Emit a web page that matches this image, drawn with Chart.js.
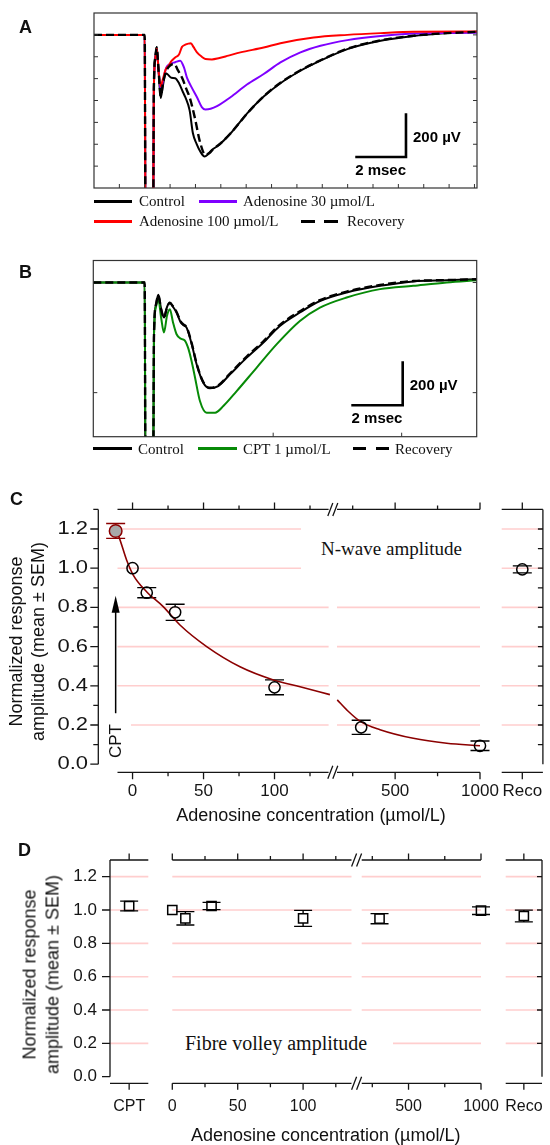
<!DOCTYPE html>
<html><head><meta charset="utf-8">
<script src="https://cdn.jsdelivr.net/npm/chart.js@4.4.1/dist/chart.umd.min.js"></script>
<style>
html,body{margin:0;padding:0;background:#fff;}
#wrap{position:relative;width:550px;height:1145px;overflow:hidden;background:#fff;}
#wrap canvas{position:absolute;left:0;top:0;}
.t{position:absolute;white-space:nowrap;color:#111;}
.serif{font-family:"Liberation Serif","Times New Roman",serif;}
.sans{font-family:"Liberation Sans",Arial,sans-serif;}
.lg{position:absolute;height:3px;}
.lbl{font-weight:bold;font-size:18px;line-height:20px;}
.leg{font-size:15px;line-height:18px;}
.rot{transform:rotate(-90deg);text-align:center;}
</style></head><body><div id="wrap">
<canvas id="cA" width="550" height="1145"></canvas>
<canvas id="cB" width="550" height="1145"></canvas>
<canvas id="cC1" width="550" height="1145"></canvas>
<canvas id="cC2" width="550" height="1145"></canvas>
<canvas id="cC3" width="550" height="1145"></canvas>
<canvas id="cD0" width="550" height="1145"></canvas>
<canvas id="cD1" width="550" height="1145"></canvas>
<canvas id="cD2" width="550" height="1145"></canvas>
<canvas id="cD3" width="550" height="1145"></canvas>

<!-- panel letters -->
<div class="t sans lbl" style="left:19px;top:17px;">A</div>
<div class="t sans lbl" style="left:19px;top:262px;">B</div>
<div class="t sans lbl" style="left:10px;top:489px;">C</div>
<div class="t sans lbl" style="left:18px;top:840px;">D</div>

<!-- legend A -->
<div class="lg" style="left:94px;top:199.5px;width:38px;background:#000"></div>
<div class="t serif leg" style="left:139px;top:192px;">Control</div>
<div class="lg" style="left:199px;top:199.5px;width:38px;background:#7f00ff"></div>
<div class="t serif leg" style="left:243px;top:192px;">Adenosine 30 µmol/L</div>
<div class="lg" style="left:94px;top:219.5px;width:38px;background:#ff0000"></div>
<div class="t serif leg" style="left:139px;top:212px;">Adenosine 100 µmol/L</div>
<div class="lg" style="left:301px;top:219.5px;width:37px;background:repeating-linear-gradient(to right,#000 0 14px,transparent 14px 23px)"></div>
<div class="t serif leg" style="left:347px;top:212px;">Recovery</div>

<!-- legend B -->
<div class="lg" style="left:93px;top:447px;width:39px;background:#000"></div>
<div class="t serif leg" style="left:138px;top:439.5px;">Control</div>
<div class="lg" style="left:198px;top:447px;width:39px;background:#078a07"></div>
<div class="t serif leg" style="left:243px;top:439.5px;">CPT 1 µmol/L</div>
<div class="lg" style="left:353px;top:447px;width:36px;background:repeating-linear-gradient(to right,#000 0 13px,transparent 13px 23px)"></div>
<div class="t serif leg" style="left:395px;top:439.5px;">Recovery</div>

<!-- panel C annotations -->
<div class="t serif" style="left:301px;top:521px;width:181px;height:56px;line-height:56px;font-size:19px;text-align:center;background:#fff;">N-wave amplitude</div>
<div class="t sans rot" style="left:95.7px;top:726px;width:40px;height:30px;line-height:30px;font-size:17px;background:#fff;">CPT</div>
<div class="t sans rot" style="left:-102.8px;top:619.5px;width:260px;height:43px;line-height:21.5px;font-size:18px;">Normalized response<br>amplitude (mean ± SEM)</div>
<div class="t sans" style="left:111px;top:804px;width:400px;text-align:center;font-size:18px;line-height:22px;">Adenosine concentration (µmol/L)</div>

<!-- panel D annotations -->
<div class="t serif" style="left:172px;top:1030px;width:208px;height:27px;line-height:27px;font-size:20px;padding-left:13px;background:#fff;">Fibre volley amplitude</div>
<div class="t sans rot" style="left:-89.5px;top:951.5px;width:260px;height:45px;line-height:22.5px;font-size:18px;">Normalized response<br>amplitude (mean ± SEM)</div>
<div class="t sans" style="left:125.7px;top:1124px;width:400px;text-align:center;font-size:18px;line-height:22px;">Adenosine concentration (µmol/L)</div>
</div>
<script>
// ---------------- DATA ----------------
// Panel A (time in ms, potential in µV)
const aControlT  = [0, 2.0, 2.03, 2.33, 2.36, 2.42, 2.47, 2.55, 2.63, 2.72, 2.82, 2.9, 3.05, 3.2, 3.36, 3.5, 3.6, 3.77, 3.9, 4.04, 4.2, 4.36, 4.5, 4.65, 4.91, 5.38, 6.03, 6.69, 7.35, 8.14, 8.93, 9.99, 11.3, 12.6, 13.94, 15.1];
const aControlV  = [0, 0, -900, -900, -250, -100, -55, -170, -288, -230, -175, -180, -196, -198, -223, -260, -285, -345, -450, -497, -535, -556, -545, -526, -505, -451, -360, -282, -221, -164, -118, -65, -27, -5, 8, 14];
const aAdeno30T  = [0, 2.0, 2.03, 2.33, 2.36, 2.42, 2.47, 2.55, 2.63, 2.72, 2.85, 3.0, 3.2, 3.4, 3.55, 3.66, 3.85, 4.06, 4.25, 4.39, 4.6, 4.85, 5.38, 6.03, 6.69, 7.35, 8.14, 8.93, 9.99, 11.3, 12.6, 13.94, 15.1];
const aAdeno30V  = [0, 0, -900, -900, -250, -110, -65, -170, -255, -210, -150, -133, -125, -118, -150, -194, -240, -285, -330, -341, -338, -326, -285, -227, -179, -126, -80, -50, -24, -5, 6, 9, 10];
const aAdeno100T = [0, 2.0, 2.03, 2.33, 2.36, 2.42, 2.47, 2.55, 2.63, 2.72, 2.82, 2.94, 3.05, 3.2, 3.35, 3.47, 3.6, 3.72, 3.82, 3.92, 4.06, 4.25, 4.39, 4.65, 4.91, 5.3, 5.77, 6.69, 7.35, 8.66, 9.99, 11.3, 12.6, 15.1];
const aAdeno100V = [0, 0, -900, -900, -250, -110, -60, -170, -235, -200, -160, -141, -120, -103, -90, -55, -45, -40, -38, -55, -80, -100, -110, -112, -107, -95, -80, -58, -38, -12, 0, 8, 14, 15];
const aRecoveryT = [0, 2.0, 2.03, 2.33, 2.36, 2.42, 2.47, 2.55, 2.63, 2.72, 2.85, 3.0, 3.17, 3.3, 3.49, 3.65, 3.77, 3.97, 4.18, 4.39, 4.55, 4.7, 4.95, 5.4, 6.05, 6.7, 7.35, 8.14, 8.93, 9.99, 11.3, 12.6, 13.94, 15.1];
const aRecoveryV = [0, 0, -900, -900, -250, -100, -58, -170, -280, -220, -165, -140, -133, -160, -201, -250, -285, -376, -490, -548, -540, -522, -500, -448, -358, -280, -219, -162, -116, -63, -25, -4, 8, 14];
const aTickT = [1,2,3,4,5,6,7,8,9,10,11,12,13,14,15];
const aTickV = [0,-100,-200,-300,-400,-500,-600];

// Panel B
const bControlT  = [0, 2.0, 2.03, 2.33, 2.36, 2.44, 2.53, 2.64, 2.75, 2.87, 2.98, 3.1, 3.24, 3.4, 3.5, 3.63, 3.83, 4.02, 4.28, 4.54, 4.86, 5.32, 5.97, 6.61, 7.26, 8.04, 8.82, 9.86, 11.16, 12.45, 13.75, 14.92];
const bControlV  = [0, 0, -900, -900, -250, -100, -56, -120, -159, -110, -91, -110, -136, -180, -193, -205, -280, -371, -455, -480, -470, -417, -341, -273, -197, -136, -84, -45, -15, 5, 10, 15];
const bCptT      = [0, 2.0, 2.03, 2.33, 2.36, 2.44, 2.53, 2.64, 2.75, 2.87, 2.98, 3.1, 3.24, 3.4, 3.55, 3.7, 3.83, 3.96, 4.15, 4.41, 4.74, 5.06, 5.58, 6.36, 7.14, 8.04, 8.82, 9.86, 11.16, 12.45, 13.75, 14.92];
const bCptV      = [0, 0, -900, -900, -250, -110, -75, -160, -227, -150, -121, -180, -235, -255, -262, -300, -360, -432, -538, -591, -591, -561, -493, -386, -280, -175, -114, -68, -30, -15, 0, 10];
const bRecoveryT = [0, 2.0, 2.03, 2.33, 2.36, 2.44, 2.53, 2.64, 2.75, 2.87, 2.98, 3.1, 3.24, 3.4, 3.5, 3.63, 3.83, 4.02, 4.28, 4.54, 4.86, 5.32, 5.97, 6.61, 7.26, 8.04, 8.82, 9.86, 11.16, 12.45, 13.75, 14.92];
const bRecoveryV = [0, 0, -900, -900, -250, -100, -58, -122, -160, -112, -93, -108, -134, -176, -190, -203, -276, -368, -452, -478, -468, -413, -336, -268, -192, -131, -80, -41, -11, 7, 11, 15];
const bTickT = [2, 7, 12];
const bTickVLeft = [-500];
const bTickVRight = [0, -500];

// Panel C (N-wave amplitude)
const cConc = [0, 10, 30, 100, 300, 1000];
const cMean = [1.00, 0.875, 0.775, 0.392, 0.188, 0.094];
const cSem  = [0, 0.026, 0.041, 0.038, 0.036, 0.024];
const cCptPos = -11.9, cCptMean = 1.19, cCptSem = 0.038;
const cRecoLabel = ['Reco'], cRecoMean = [0.994], cRecoSem = [0.018];
const cFitConc1 = [-11.9, -10.1, -4.2, 0.5, 9.9, 21.6, 33.4, 52.2, 75.7, 99.2, 118, 139];
const cFitVal1  = [1.19, 1.169, 1.042, 0.965, 0.880, 0.804, 0.710, 0.600, 0.497, 0.430, 0.395, 0.355];
const cFitConc2 = [159, 215, 297, 411, 607, 804, 1000];
const cFitVal2  = [0.328, 0.277, 0.217, 0.176, 0.132, 0.107, 0.094];
const cYTicks = [0.0,0.1,0.2,0.3,0.4,0.5,0.6,0.7,0.8,0.9,1.0,1.1,1.2,1.3];
const cYTickLabels = ['0.0','','0.2','','0.4','','0.6','','0.8','','1.0','','1.2',''];
const cXTicks1 = [0,25,50,75,100,125], cXLabels1 = ['0','','50','','100',''];
const cXTicks2 = [250,500,750,1000], cXLabels2 = ['','500','','1000'];
const gridVals = [0.2,0.4,0.6,0.8,1.0,1.2];

// Panel D (fibre volley amplitude)
const dConc = [0, 10, 30, 100, 300, 1000];
const dMean = [1.00, 0.95, 1.024, 0.95, 0.948, 0.996];
const dSem  = [0, 0.04, 0.022, 0.048, 0.03, 0.023];
const dCptLabel = ['CPT'], dCptMean = [1.024], dCptSem = [0.029];
const dRecoLabel = ['Reco'], dRecoMean = [0.964], dRecoSem = [0.035];
const dYTicks = [0.0,0.2,0.4,0.6,0.8,1.0,1.2];
const dYTickLabels = ['0.0','0.2','0.4','0.6','0.8','1.0','1.2'];
const dXTicks1 = [0,25,50,75,100,125], dXLabels1 = ['0','','50','','100',''];
const dXTicks2 = [250,500,750,1000], dXLabels2 = ['','500','','1000'];

// ---------------- HELPERS ----------------
const SANS = '"Liberation Sans", Arial, sans-serif';
const INK = '#151515';
const GRID = 'rgb(255,206,206)';
const DARKRED = '#8B0000';
const xy = (xs, ys) => xs.map((x, i) => ({x: x, y: ys[i]}));
function pad(L, R, T, B) { return {left: L, right: 550 - R, top: T, bottom: 1145 - B}; }

function mk(id, o) {
  return new Chart(document.getElementById(id), {
    type: o.type || 'scatter',
    data: {labels: o.labels, datasets: o.datasets},
    options: {
      responsive: false, maintainAspectRatio: false, animation: false, devicePixelRatio: 1, events: [],
      layout: {padding: o.padding},
      plugins: {legend: {display: false}, tooltip: {enabled: false}, title: {display: false}},
      scales: {x: Object.assign({display: false}, o.x), y: Object.assign({display: false}, o.y)}
    },
    plugins: [{
      id: 'deco' + id,
      beforeDatasetsDraw(c) { if (o.under) { c.ctx.save(); o.under(c.ctx, c.scales.x, c.scales.y, c.chartArea); c.ctx.restore(); } },
      afterDatasetsDraw(c) { if (o.over) { c.ctx.save(); o.over(c.ctx, c.scales.x, c.scales.y, c.chartArea); c.ctx.restore(); } }
    }]
  });
}
function trace(ts, vs, color, width, dash) {
  return {data: xy(ts, vs), showLine: true, borderColor: color, borderWidth: width, borderDash: dash || [],
    pointRadius: 0, cubicInterpolationMode: 'monotone', fill: false, borderCapStyle: 'butt'};
}
function frameTicks(ctx, X, Y, a, tT, tVL, tVR) {
  ctx.strokeStyle = '#333'; ctx.lineWidth = 1.2;
  ctx.strokeRect(a.left, a.top, a.right - a.left, a.bottom - a.top);
  ctx.lineWidth = 1; ctx.beginPath();
  tT.forEach(t => { const x = X.getPixelForValue(t); ctx.moveTo(x, a.bottom); ctx.lineTo(x, a.bottom - 4); });
  tVL.forEach(v => { const y = Y.getPixelForValue(v); ctx.moveTo(a.left, y); ctx.lineTo(a.left + 4, y); });
  tVR.forEach(v => { const y = Y.getPixelForValue(v); ctx.moveTo(a.right, y); ctx.lineTo(a.right - 4, y); });
  ctx.stroke();
}
function scaleBar(ctx, X, Y, t0, v0, dt, dv, lblV, lblT) {
  const x0 = X.getPixelForValue(t0), y0 = Y.getPixelForValue(v0);
  const x1 = X.getPixelForValue(t0 - dt), y1 = Y.getPixelForValue(v0 + dv);
  ctx.strokeStyle = '#000'; ctx.lineWidth = 2.6; ctx.lineJoin = 'miter';
  ctx.beginPath(); ctx.moveTo(x0, y1); ctx.lineTo(x0, y0); ctx.lineTo(x1, y0); ctx.stroke();
  ctx.font = 'bold 15px ' + SANS; ctx.fillStyle = '#000'; ctx.textBaseline = 'middle';
  ctx.textAlign = 'left'; ctx.fillText(lblV, x0 + 7, (y0 + y1) / 2 + 3);
  ctx.textAlign = 'center'; ctx.fillText(lblT, (x0 + x1) / 2, y0 + 14);
}
function gridH(ctx, Y, a, vals) {
  ctx.strokeStyle = GRID; ctx.lineWidth = 1.6; ctx.beginPath();
  vals.forEach(v => { const y = Y.getPixelForValue(v); ctx.moveTo(a.left, y); ctx.lineTo(a.right, y); });
  ctx.stroke();
}
function errBars(ctx, X, Y, xs, means, sems, half, mHalf, color) {
  ctx.strokeStyle = color; ctx.lineWidth = 1.4; ctx.beginPath();
  xs.forEach((xv, i) => {
    if (!sems[i]) return;
    const x = X.getPixelForValue(xv), yc = Y.getPixelForValue(means[i]);
    const yt = Y.getPixelForValue(means[i] + sems[i]), yb = Y.getPixelForValue(means[i] - sems[i]);
    ctx.moveTo(x - half, yt); ctx.lineTo(x + half, yt); ctx.moveTo(x - half, yb); ctx.lineTo(x + half, yb);
    if (yc - yt > mHalf) { ctx.moveTo(x, yt); ctx.lineTo(x, yc - mHalf); ctx.moveTo(x, yc + mHalf); ctx.lineTo(x, yb); }
  });
  ctx.stroke();
}
function xAxisSeg(ctx, X, a, yTop, yBot, ticks, labels, forceMajor, lblY, font, lenMaj, lenMin) {
  ctx.strokeStyle = INK; ctx.lineWidth = 1.3; ctx.beginPath();
  ctx.moveTo(a.left, yTop); ctx.lineTo(a.right, yTop);
  ctx.moveTo(a.left, yBot); ctx.lineTo(a.right, yBot);
  ticks.forEach((t, i) => {
    const x = X.getPixelForValue(t); const len = (forceMajor || labels[i]) ? lenMaj : lenMin;
    ctx.moveTo(x, yTop); ctx.lineTo(x, yTop - len); ctx.moveTo(x, yBot); ctx.lineTo(x, yBot + len);
  });
  ctx.stroke();
  ctx.font = font; ctx.fillStyle = INK; ctx.textAlign = 'center'; ctx.textBaseline = 'middle';
  ticks.forEach((t, i) => { if (labels[i]) ctx.fillText(labels[i], X.getPixelForValue(t), lblY); });
}
function slashes(ctx, xMid, ys) {
  ctx.strokeStyle = INK; ctx.lineWidth = 1.3; ctx.beginPath();
  ys.forEach(y => { [-2.5, 2.5].forEach(d => { ctx.moveTo(xMid + d - 2.5, y + 6.5); ctx.lineTo(xMid + d + 2.5, y - 6.5); }); });
  ctx.stroke();
}
function sel(xs, ms, ss, lo, hi) {
  const o = {x: [], m: [], s: []};
  xs.forEach((x, i) => { if (x >= lo && x <= hi) { o.x.push(x); o.m.push(ms[i]); o.s.push(ss[i]); } });
  return o;
}
function markers(xs, ys, style, r, fill, stroke) {
  return {data: xy(xs, ys), showLine: false, pointStyle: style, pointRadius: r, pointBorderWidth: 1.5,
    pointBackgroundColor: fill, pointBorderColor: stroke, clip: false};
}
function catMarkers(ys, style, r, fill, stroke) {
  return {data: ys, showLine: false, pointStyle: style, pointRadius: r, pointBorderWidth: 1.5,
    pointBackgroundColor: fill, pointBorderColor: stroke, clip: false};
}

// ---------------- PANEL A ----------------
mk('cA', {
  padding: pad(94, 477, 13, 188),
  x: {type: 'linear', min: 0, max: 15.1}, y: {type: 'linear', min: -700, max: 100},
  datasets: [
    trace(aRecoveryT, aRecoveryV, '#000', 2.4, [8, 4]),
    trace(aAdeno100T, aAdeno100V, '#ff0000', 2),
    trace(aAdeno30T, aAdeno30V, '#7f00ff', 2),
    trace(aControlT, aControlV, '#000', 2)
  ],
  over(ctx, X, Y, a) {
    frameTicks(ctx, X, Y, a, aTickT, aTickV, aTickV);
    scaleBar(ctx, X, Y, 12.3, -558, 2, 200, '200 µV', '2 msec');
  }
});

// ---------------- PANEL B ----------------
mk('cB', {
  padding: pad(93.3, 476.7, 260.5, 436.7),
  x: {type: 'linear', min: 0, max: 14.92}, y: {type: 'linear', min: -700, max: 100},
  datasets: [
    trace(bRecoveryT, bRecoveryV, '#000', 2.4, [8, 4]),
    trace(bCptT, bCptV, '#078a07', 2),
    trace(bControlT, bControlV, '#000', 2)
  ],
  over(ctx, X, Y, a) {
    frameTicks(ctx, X, Y, a, bTickT, bTickVLeft, bTickVRight);
    scaleBar(ctx, X, Y, 12.04, -557, 2, 200, '200 µV', '2 msec');
  }
});

// ---------------- PANEL C ----------------
const CT = 509.4, CB = 764.2, CBOT = 772.3, CLBL = 791.7;
const C1 = {L: 117.5, R: 328.6, min: -10.6, max: 138.1};
const C2 = {L: 337, R: 480, min: 157.5, max: 1000};
const C3 = {L: 501.7, R: 546.7};
const cy = {type: 'linear', min: 0, max: 1.3};
const cFont = '17px ' + SANS;
const s1 = sel(cConc, cMean, cSem, C1.min, C1.max);
const s2 = sel(cConc, cMean, cSem, C2.min, C2.max);

mk('cC1', {
  padding: pad(C1.L, C1.R, CT, CB),
  x: {type: 'linear', min: C1.min, max: C1.max}, y: cy,
  datasets: [
    markers([cCptPos], [cCptMean], 'circle', 6.3, '#a8a8a8', DARKRED),
    markers(s1.x, s1.m, 'circle', 5.6, 'rgba(0,0,0,0)', '#000'),
    Object.assign(trace(cFitConc1, cFitVal1, DARKRED, 1.6), {clip: false})
  ],
  under(ctx, X, Y, a) {
    gridH(ctx, Y, a, gridVals);
    errBars(ctx, X, Y, s1.x, s1.m, s1.s, 9.5, 5.8, '#000');
    errBars(ctx, X, Y, [cCptPos], [cCptMean], [cCptSem], 9.5, 6.5, DARKRED);
  },
  over(ctx, X, Y, a) {
    const ax = 98.3;
    ctx.strokeStyle = INK; ctx.lineWidth = 1.3; ctx.beginPath();
    ctx.moveTo(ax, Y.getPixelForValue(1.3)); ctx.lineTo(ax, Y.getPixelForValue(0));
    cYTicks.forEach((v, i) => { const y = Y.getPixelForValue(v); ctx.moveTo(ax, y); ctx.lineTo(ax - (cYTickLabels[i] ? 8 : 5), y); });
    ctx.stroke();
    ctx.fillStyle = INK; ctx.font = '18px ' + SANS; ctx.textAlign = 'right'; ctx.textBaseline = 'middle';
    cYTicks.forEach((v, i) => { if (cYTickLabels[i]) { ctx.save(); ctx.translate(88, Y.getPixelForValue(v)); ctx.scale(1.22, 1); ctx.fillText(cYTickLabels[i], 0, 0); ctx.restore(); } });
    xAxisSeg(ctx, X, a, CT, CBOT, cXTicks1, cXLabels1, false, CLBL, cFont, 7, 4);
    const x = X.getPixelForValue(cCptPos), yb = Y.getPixelForValue(0.26), yt = Y.getPixelForValue(0.86);
    ctx.strokeStyle = '#000'; ctx.lineWidth = 1.5; ctx.beginPath(); ctx.moveTo(x, yb); ctx.lineTo(x, yt + 12); ctx.stroke();
    ctx.fillStyle = '#000'; ctx.beginPath(); ctx.moveTo(x, yt); ctx.lineTo(x - 4, yt + 17); ctx.lineTo(x + 4, yt + 17); ctx.closePath(); ctx.fill();
    slashes(ctx, (C1.R + C2.L) / 2, [CT, CBOT]);
  }
});

mk('cC2', {
  padding: pad(C2.L, C2.R, CT, CB),
  x: {type: 'linear', min: C2.min, max: C2.max}, y: cy,
  datasets: [
    markers(s2.x, s2.m, 'circle', 5.6, 'rgba(0,0,0,0)', '#000'),
    Object.assign(trace(cFitConc2, cFitVal2, DARKRED, 1.6), {clip: false})
  ],
  under(ctx, X, Y, a) {
    gridH(ctx, Y, a, gridVals);
    errBars(ctx, X, Y, s2.x, s2.m, s2.s, 9.5, 5.8, '#000');
  },
  over(ctx, X, Y, a) {
    xAxisSeg(ctx, X, a, CT, CBOT, cXTicks2, cXLabels2, false, CLBL, cFont, 7, 4);
  }
});

mk('cC3', {
  type: 'line', labels: cRecoLabel,
  padding: pad(C3.L, C3.R, CT, CB),
  x: {type: 'category', offset: true}, y: cy,
  datasets: [catMarkers(cRecoMean, 'circle', 5.6, 'rgba(0,0,0,0)', '#000')],
  under(ctx, X, Y, a) {
    gridH(ctx, Y, a, gridVals);
    errBars(ctx, X, Y, [0], cRecoMean, cRecoSem, 9.5, 5.8, '#000');
  },
  over(ctx, X, Y, a) {
    xAxisSeg(ctx, X, a, CT, CBOT, [0], cRecoLabel, true, CLBL, cFont, 7, 4);
    ctx.strokeStyle = INK; ctx.lineWidth = 1.3; ctx.beginPath();
    ctx.moveTo(a.right, Y.getPixelForValue(1.3)); ctx.lineTo(a.right, Y.getPixelForValue(0));
    cYTicks.forEach(v => { if (v > 0 && v < 1.3) { const y = Y.getPixelForValue(v); ctx.moveTo(a.right, y); ctx.lineTo(a.right - 5, y); } });
    ctx.stroke();
  }
});

// ---------------- PANEL D ----------------
const DT = 860, DB = 1076.7, DBOT = 1083.3, DLBL = 1106.7;
const D0 = {L: 110, R: 148.3};
const D1 = {L: 172.3, R: 351.5, min: 0, max: 137};
const D2 = {L: 361.7, R: 481, min: 176.9, max: 1000};
const D3 = {L: 505.7, R: 544.3};
const dy = {type: 'linear', min: 0, max: 1.3};
const dFont = '16px ' + SANS;
const t1 = sel(dConc, dMean, dSem, D1.min, D1.max);
const t2 = sel(dConc, dMean, dSem, D2.min, D2.max);

mk('cD0', {
  type: 'line', labels: dCptLabel,
  padding: pad(D0.L, D0.R, DT, DB),
  x: {type: 'category', offset: true}, y: dy,
  datasets: [catMarkers(dCptMean, 'rect', 6.5, 'rgba(0,0,0,0)', '#000')],
  under(ctx, X, Y, a) {
    gridH(ctx, Y, a, gridVals);
    errBars(ctx, X, Y, [0], dCptMean, dCptSem, 9, 4.6, '#000');
  },
  over(ctx, X, Y, a) {
    ctx.strokeStyle = INK; ctx.lineWidth = 1.3; ctx.beginPath();
    ctx.moveTo(a.left, Y.getPixelForValue(1.3)); ctx.lineTo(a.left, Y.getPixelForValue(0));
    dYTicks.forEach(v => { const y = Y.getPixelForValue(v); ctx.moveTo(a.left, y); ctx.lineTo(a.left - 8, y); });
    ctx.stroke();
    ctx.fillStyle = INK; ctx.font = '17px ' + SANS; ctx.textAlign = 'right'; ctx.textBaseline = 'middle';
    dYTicks.forEach((v, i) => ctx.fillText(dYTickLabels[i], 97, Y.getPixelForValue(v)));
    xAxisSeg(ctx, X, a, DT, DBOT, [0], dCptLabel, true, DLBL, dFont, 6.5, 4);
  }
});

mk('cD1', {
  padding: pad(D1.L, D1.R, DT, DB),
  x: {type: 'linear', min: D1.min, max: D1.max}, y: dy,
  datasets: [markers(t1.x, t1.m, 'rect', 6.5, 'rgba(0,0,0,0)', '#000')],
  under(ctx, X, Y, a) {
    gridH(ctx, Y, a, gridVals);
    errBars(ctx, X, Y, t1.x, t1.m, t1.s, 9, 4.6, '#000');
  },
  over(ctx, X, Y, a) {
    xAxisSeg(ctx, X, a, DT, DBOT, dXTicks1, dXLabels1, false, DLBL, dFont, 6.5, 4);
    slashes(ctx, (D1.R + D2.L) / 2, [DT, DBOT]);
  }
});

mk('cD2', {
  padding: pad(D2.L, D2.R, DT, DB),
  x: {type: 'linear', min: D2.min, max: D2.max}, y: dy,
  datasets: [markers(t2.x, t2.m, 'rect', 6.5, 'rgba(0,0,0,0)', '#000')],
  under(ctx, X, Y, a) {
    gridH(ctx, Y, a, gridVals);
    errBars(ctx, X, Y, t2.x, t2.m, t2.s, 9, 4.6, '#000');
  },
  over(ctx, X, Y, a) {
    xAxisSeg(ctx, X, a, DT, DBOT, dXTicks2, dXLabels2, false, DLBL, dFont, 6.5, 4);
  }
});

mk('cD3', {
  type: 'line', labels: dRecoLabel,
  padding: pad(D3.L, D3.R, DT, DB),
  x: {type: 'category', offset: true}, y: dy,
  datasets: [catMarkers(dRecoMean, 'rect', 6.5, 'rgba(0,0,0,0)', '#000')],
  under(ctx, X, Y, a) {
    gridH(ctx, Y, a, gridVals);
    errBars(ctx, X, Y, [0], dRecoMean, dRecoSem, 9, 4.6, '#000');
  },
  over(ctx, X, Y, a) {
    xAxisSeg(ctx, X, a, DT, DBOT, [0], dRecoLabel, true, DLBL, dFont, 6.5, 4);
    ctx.strokeStyle = INK; ctx.lineWidth = 1.3; ctx.beginPath();
    ctx.moveTo(a.right, Y.getPixelForValue(1.3)); ctx.lineTo(a.right, Y.getPixelForValue(0));
    dYTicks.forEach(v => { if (v > 0) { const y = Y.getPixelForValue(v); ctx.moveTo(a.right, y); ctx.lineTo(a.right - 5, y); } });
    ctx.stroke();
  }
});
</script></body></html>
